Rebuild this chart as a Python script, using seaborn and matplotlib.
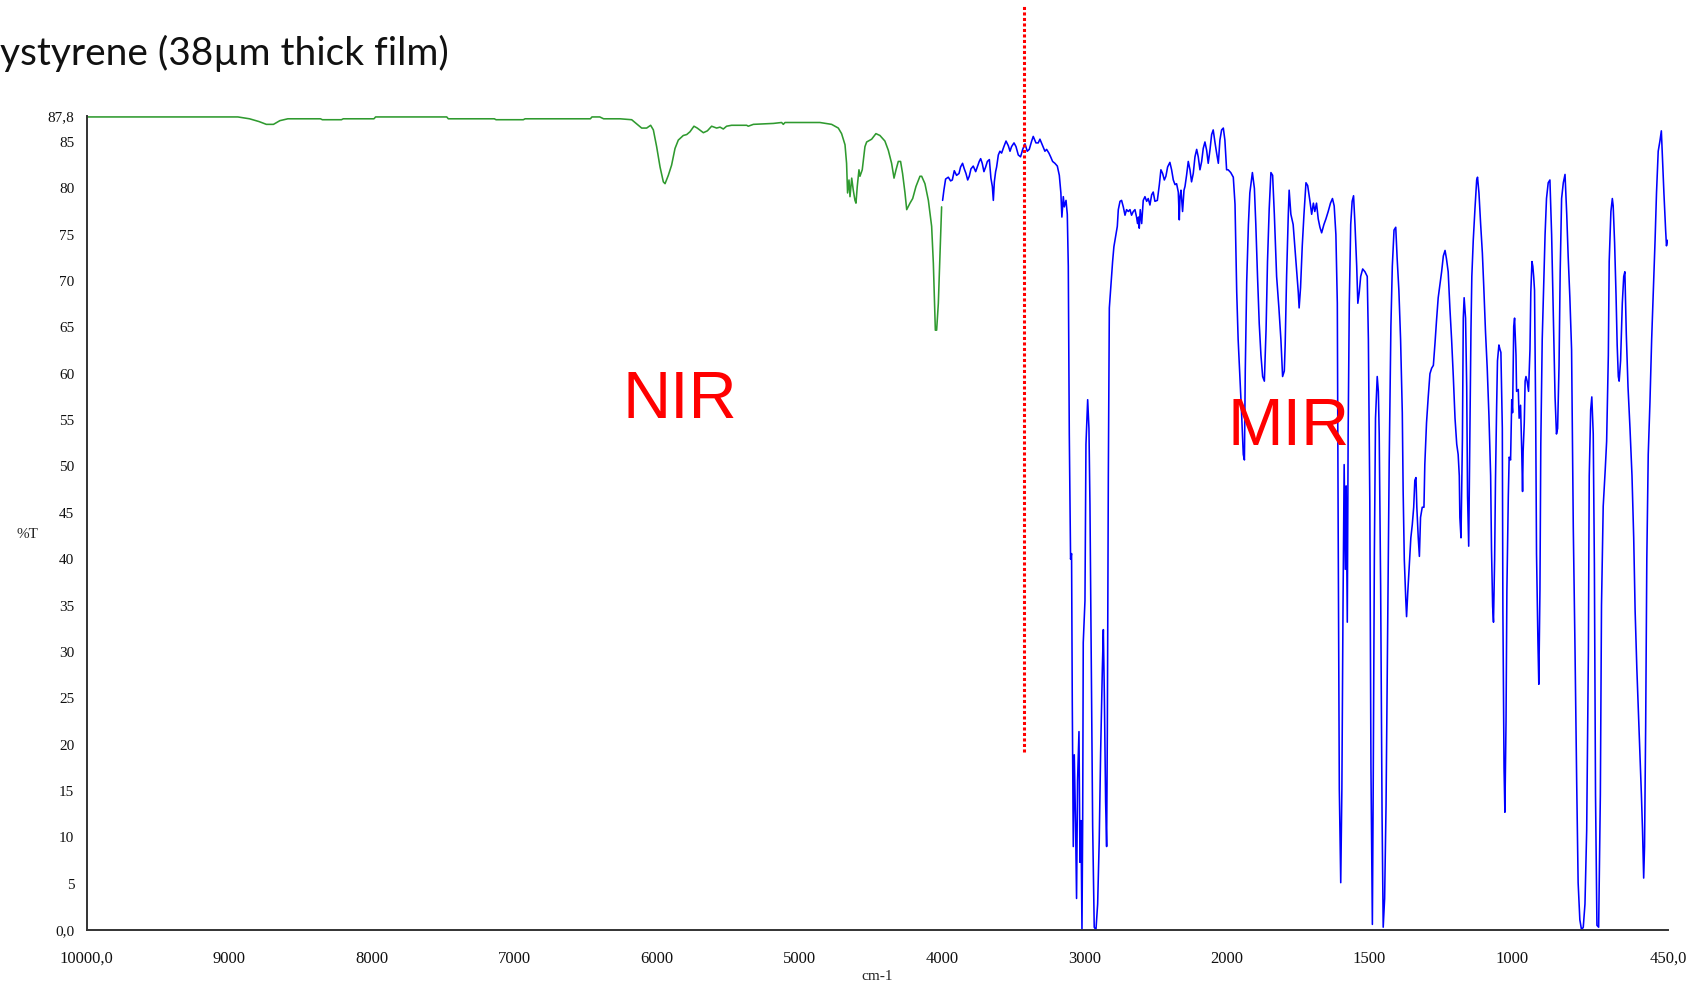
import numpy as np
import seaborn as sns
import matplotlib.pyplot as plt

# --- spectrum data (wavenumber in cm-1, %T) ---
# NIR part (green)
nir_w = [10000, 8940, 8858, 8791, 8740, 8690, 8645, 8589, 8360, 8347,
         8213, 8200, 7985, 7973, 7474, 7463, 7140, 7128, 6937, 6924,
         6466, 6455, 6400, 6373, 6258, 6176, 6106, 6071, 6043, 6024,
         6001, 5977, 5954, 5942, 5919, 5896, 5872, 5849, 5814, 5790,
         5767, 5739, 5716, 5673, 5645, 5615, 5580, 5556, 5533, 5510,
         5475, 5369, 5358, 5322, 5182, 5124, 5112, 5100, 4855, 4773,
         4726, 4703, 4679, 4668, 4661, 4651, 4644, 4632, 4621, 4609,
         4602, 4593, 4581, 4574, 4558, 4539, 4527, 4492, 4462, 4434,
         4399, 4375, 4352, 4335, 4321, 4305, 4289, 4275, 4258, 4246,
         4223, 4204, 4181, 4153, 4141, 4118, 4094, 4071, 4059, 4052,
         4045, 4036, 4024, 4013, 4001]
nir_t = [87.7, 87.7, 87.5, 87.2, 86.9, 86.9, 87.3, 87.5, 87.5, 87.4,
         87.4, 87.5, 87.5, 87.7, 87.7, 87.5, 87.5, 87.4, 87.4, 87.5,
         87.5, 87.7, 87.7, 87.5, 87.5, 87.4, 86.5, 86.5, 86.8, 86.3,
         84.5, 82.3, 80.7, 80.5, 81.4, 82.5, 84.3, 85.2, 85.7, 85.8,
         86.1, 86.7, 86.5, 86.0, 86.2, 86.7, 86.5, 86.6, 86.4, 86.7,
         86.8, 86.8, 86.7, 86.9, 87.0, 87.1, 86.9, 87.1, 87.1, 86.9,
         86.5, 85.9, 84.7, 82.7, 79.5, 80.9, 79.1, 81.1, 79.8, 78.7,
         78.4, 80.2, 82.0, 81.3, 82.0, 84.5, 85.0, 85.3, 85.9, 85.7,
         85.1, 84.1, 82.7, 81.1, 82.0, 82.9, 82.9, 81.6, 79.5, 77.7,
         78.4, 78.9, 80.2, 81.3, 81.3, 80.5, 78.7, 75.9, 71.9, 68.3,
         64.7, 64.7, 67.6, 72.6, 78.0]

# MIR part (blue), split by region
mir_w_oh = [3994, 3985, 3973, 3954, 3938, 3926, 3912, 3896, 3879, 3868,
            3854, 3842, 3830, 3818, 3807, 3795, 3779, 3762, 3751, 3737,
            3727, 3716, 3704, 3692, 3680, 3666, 3655, 3645, 3638, 3631,
            3622, 3615, 3603, 3592, 3580, 3564, 3549, 3533, 3521, 3510,
            3493, 3479, 3463, 3447, 3432, 3416, 3400, 3386, 3369, 3358,
            3339, 3323, 3311, 3292, 3276, 3264, 3248, 3236, 3222, 3206,
            3189, 3175, 3164, 3157, 3147, 3140, 3128]
mir_t_oh = [78.7, 79.8, 81.0, 81.2, 80.8, 80.9, 81.9, 81.4, 81.6, 82.3,
            82.7, 82.1, 81.6, 80.9, 81.3, 82.1, 82.4, 81.8, 82.3, 82.9,
            83.2, 82.7, 81.8, 82.3, 82.9, 83.1, 81.1, 80.2, 78.7, 80.7,
            81.8, 82.3, 83.6, 84.0, 83.8, 84.5, 85.1, 84.6, 84.0, 84.5,
            84.9, 84.5, 83.6, 83.4, 84.2, 84.8, 84.0, 84.2, 85.1, 85.6,
            84.9, 84.9, 85.3, 84.6, 84.0, 84.2, 83.8, 83.4, 82.9, 82.7,
            82.4, 81.4, 79.5, 76.9, 79.1, 78.0, 78.7]

mir_w_ch = [3119, 3112, 3105, 3096, 3089, 3084, 3077, 3070, 3061, 3054,
            3047, 3037, 3030, 3023, 3016, 3011, 3007, 2995, 2988, 2976,
            2967, 2960, 2951, 2941, 2930, 2918, 2906, 2895, 2885, 2873,
            2866, 2859, 2850, 2843, 2838, 2831, 2824]
mir_t_ch = [77.2, 71.6, 53.5, 40.0, 40.6, 24.5, 9.0, 18.9, 11.5, 3.4,
            16.1, 21.4, 7.3, 11.8, 0.0, 11.8, 31.0, 35.5, 52.4, 57.2,
            54.1, 45.9, 29.3, 11.2, 0.3, 0.0, 2.8, 9.6, 19.2, 28.2,
            32.4, 25.4, 13.8, 9.0, 21.4, 49.0, 67.1]

mir_w_mid = [2801, 2792, 2780, 2768, 2761, 2749, 2738, 2726, 2714, 2703,
             2691, 2679, 2668, 2656, 2644, 2633, 2626, 2619, 2614, 2607,
             2597, 2586, 2574, 2562, 2551, 2539, 2527, 2516, 2504, 2487,
             2473, 2462, 2450, 2438, 2427, 2415, 2399, 2387, 2375, 2363,
             2352, 2340, 2333, 2328, 2321, 2310, 2300, 2293, 2282, 2270,
             2258, 2247, 2235, 2223, 2211, 2200, 2188, 2176, 2165, 2153,
             2141, 2130, 2118, 2106, 2095, 2083, 2071, 2059, 2048, 2036,
             2024, 2013, 2001]
mir_t_mid = [72.1, 73.7, 74.8, 75.9, 77.7, 78.6, 78.7, 78.0, 77.1, 77.7,
             77.5, 77.7, 77.1, 77.5, 77.7, 76.9, 76.2, 76.9, 75.7, 77.7,
             76.2, 78.7, 79.1, 78.6, 78.9, 78.2, 79.3, 79.6, 78.6, 78.7,
             80.4, 82.0, 81.6, 80.9, 81.3, 82.3, 82.8, 82.0, 80.9, 80.4,
             80.5, 79.6, 76.6, 79.1, 79.8, 77.5, 79.8, 80.2, 81.4, 82.9,
             82.0, 80.7, 81.6, 83.4, 84.2, 83.4, 82.0, 82.9, 84.3, 85.0,
             84.1, 82.7, 84.1, 85.8, 86.3, 85.0, 83.8, 82.7, 85.2, 86.3,
             86.5, 85.2, 82.0]

mir_w_arom = [1995, 1986, 1977, 1971, 1965, 1960, 1954, 1948, 1942, 1938,
              1935, 1930, 1924, 1919, 1910, 1903, 1898, 1892, 1886, 1880,
              1874, 1868, 1862, 1857, 1851, 1845, 1839, 1833, 1825, 1817,
              1810, 1804, 1798, 1795, 1790, 1784, 1781, 1775, 1767, 1757,
              1749, 1746, 1741, 1735, 1729, 1722, 1716, 1708, 1702, 1696,
              1691, 1685, 1679, 1673, 1667, 1659, 1652, 1644, 1636, 1629,
              1623, 1617, 1612, 1609, 1605, 1600, 1596, 1592, 1588, 1584,
              1581, 1577, 1574, 1570, 1565, 1560, 1555, 1550, 1544, 1540,
              1535, 1530, 1523, 1515]
mir_t_arom = [82.0, 81.7, 81.2, 78.3, 68.8, 63.7, 59.7, 55.8, 51.3, 50.7,
              60.3, 69.9, 76.1, 79.5, 81.7, 80.0, 76.1, 70.5, 65.4, 62.0,
              59.7, 59.2, 64.8, 72.1, 77.8, 81.7, 81.4, 77.2, 70.5, 67.1,
              63.7, 59.7, 60.3, 63.1, 70.5, 77.2, 79.8, 77.2, 76.1, 72.1,
              68.8, 67.1, 69.3, 73.8, 77.2, 80.6, 80.3, 78.6, 77.2, 78.4,
              77.5, 78.4, 76.7, 75.8, 75.2, 76.1, 76.7, 77.5, 78.4, 78.9,
              78.1, 75.0, 67.6, 43.4, 15.2, 5.1, 15.2, 35.0, 50.2, 38.9,
              47.9, 33.2, 53.5, 67.6, 76.1, 78.6, 79.2, 76.1, 71.6, 67.6,
              68.8, 70.5, 71.3, 71.0]

mir_w_fp1 = [1507, 1503, 1498, 1494, 1489, 1486, 1482, 1478, 1472, 1468,
             1465, 1460, 1455, 1451, 1446, 1441, 1436, 1430, 1424, 1419,
             1413, 1407, 1402, 1396, 1390, 1384, 1381, 1377, 1372, 1369,
             1365, 1359, 1354, 1349, 1344, 1340, 1336, 1333, 1328, 1324,
             1320, 1314, 1308, 1305, 1299, 1293, 1287, 1281, 1275, 1269,
             1264, 1258, 1252, 1246, 1240, 1234, 1229, 1223, 1217, 1211,
             1205, 1199, 1193, 1188, 1184, 1182, 1178, 1173, 1170, 1167,
             1162, 1158, 1155, 1151, 1147, 1143, 1140, 1135, 1129, 1123,
             1120, 1115, 1109, 1103, 1098, 1092, 1086, 1080, 1074, 1071,
             1067, 1064, 1060, 1057, 1053, 1050, 1045, 1041]
mir_t_fp1 = [70.5, 63.7, 46.2, 17.5, 0.6, 15.8, 40.6, 55.2, 59.7, 58.1,
             53.5, 37.2, 12.4, 0.3, 3.4, 13.5, 30.4, 50.4, 65.1, 71.6,
             75.5, 75.8, 72.4, 69.0, 63.7, 55.8, 47.3, 40.0, 35.8, 33.8,
             36.3, 39.5, 42.3, 43.7, 45.6, 48.5, 48.8, 45.6, 42.3, 40.3,
             44.5, 45.6, 45.6, 50.2, 54.7, 57.5, 60.0, 60.6, 60.9, 63.4,
             65.7, 68.2, 69.6, 71.0, 72.7, 73.3, 72.4, 71.0, 67.1, 63.7,
             59.7, 55.2, 52.4, 51.3, 49.0, 44.5, 42.3, 53.0, 66.0, 68.2,
             66.0, 58.6, 46.8, 41.4, 53.0, 64.8, 70.5, 74.4, 77.8, 80.9,
             81.2, 79.5, 76.1, 73.0, 69.3, 64.5, 60.6, 55.5, 49.0, 41.1,
             34.9, 33.2, 40.0, 48.5, 56.4, 61.4, 63.1, 62.6]

mir_w_fp2 = [1038, 1033, 1031, 1027, 1024, 1020, 1017, 1012, 1009, 1004,
             1000, 997, 993, 990, 985, 983, 977, 974, 969, 965,
             962, 960, 956, 953, 950, 946, 941, 936, 933, 929,
             926, 923, 920, 916, 913, 908, 905, 901, 898, 893,
             888, 883, 878, 872, 866, 860, 854, 848, 843, 839,
             834, 830, 825, 819, 813, 807, 802, 796, 790, 784,
             778, 772, 767, 761, 755, 749, 743, 737, 731, 728,
             723, 719, 714, 710, 706, 701, 695, 689, 685, 679,
             672, 667, 661, 658, 652, 647, 644, 639, 634, 630,
             626, 623, 618, 612, 607, 603, 598, 592, 585, 578,
             572, 567, 561, 555, 550, 545, 541, 537, 534, 530,
             526, 521, 515, 509, 503, 497, 492, 486, 480, 475,
             472, 466, 460, 457, 453]
mir_t_fp2 = [62.3, 54.1, 34.4, 17.5, 12.7, 22.5, 36.6, 46.8, 51.0, 50.7,
             57.2, 55.8, 65.1, 66.0, 62.0, 58.1, 58.3, 55.2, 56.6, 51.8,
             47.3, 51.6, 54.7, 59.2, 59.7, 59.2, 58.1, 62.6, 68.8, 72.1,
             71.6, 70.5, 69.0, 55.8, 40.6, 31.0, 26.5, 36.6, 52.4, 63.7,
             69.3, 75.0, 78.9, 80.6, 80.9, 75.0, 66.5, 57.5, 53.5, 54.1,
             60.9, 71.0, 78.9, 80.6, 81.5, 77.2, 72.7, 68.2, 62.6, 43.4,
             30.4, 15.8, 5.1, 1.1, 0.0, 0.3, 2.8, 10.7, 29.9, 49.0,
             56.1, 57.5, 53.5, 39.5, 14.6, 0.5, 0.3, 14.6, 35.0, 45.7,
             49.6, 52.7, 62.0, 72.1, 77.5, 78.9, 78.1, 74.1, 68.5, 63.1,
             59.7, 59.2, 61.4, 67.6, 70.5, 71.0, 64.3, 58.6, 54.1, 49.0,
             42.3, 34.4, 28.2, 23.1, 18.6, 14.6, 10.7, 5.6, 9.0, 22.0,
             40.0, 51.3, 56.9, 63.7, 69.0, 74.4, 79.5, 84.0, 85.1, 86.2,
             84.0, 79.5, 75.5, 73.8, 74.4]

x_ticks = [10000, 9000, 8000, 7000, 6000, 5000, 4000, 3000, 2000, 1500, 1000, 450]
x_tick_labels = ['10000,0', '9000', '8000', '7000', '6000', '5000', '4000',
                 '3000', '2000', '1500', '1000', '450,0']
y_ticks = [0, 5, 10, 15, 20, 25, 30, 35, 40, 45, 50, 55, 60, 65, 70, 75, 80, 85, 87.8]
y_tick_labels = ['0,0', '5', '10', '15', '20', '25', '30', '35', '40', '45',
                 '50', '55', '60', '65', '70', '75', '80', '85', '87,8']

divider_w = 3420  # NIR / MIR boundary line


def forward(w):
    # spectrometer axis: scale doubles below 2000 cm-1
    w = np.asarray(w, dtype=float)
    return np.where(w >= 2000, w, 2 * w - 2000)


def inverse(v):
    v = np.asarray(v, dtype=float)
    return np.where(v >= 2000, v, (v + 2000) / 2)


def main():
    sns.set_style('white')
    plt.rcParams['font.family'] = ['Liberation Serif', 'DejaVu Serif']

    mir_w = mir_w_oh + mir_w_ch + mir_w_mid + mir_w_arom + mir_w_fp1 + mir_w_fp2
    mir_t = mir_t_oh + mir_t_ch + mir_t_mid + mir_t_arom + mir_t_fp1 + mir_t_fp2

    fig = plt.figure(figsize=(17.02, 9.84), dpi=100)
    ax = fig.add_axes([0.0510, 0.0549, 0.9293, 0.8272])

    sns.lineplot(x=nir_w, y=nir_t, ax=ax, color='#2f9a2f', lw=1.15,
                 sort=False, estimator=None)
    sns.lineplot(x=mir_w, y=mir_t, ax=ax, color='#0000ff', lw=1.15,
                 sort=False, estimator=None)

    ax.set_xscale('function', functions=(forward, inverse))
    ax.set_xlim(10000, 450)
    ax.set_ylim(0, 87.8)

    ax.set_xticks(x_ticks)
    ax.set_xticklabels(x_tick_labels, fontsize=12)
    ax.set_yticks(y_ticks)
    ax.set_yticklabels(y_tick_labels, fontsize=11)
    ax.minorticks_off()
    ax.set_xlabel('')
    ax.set_ylabel('')

    for side in ['top', 'right']:
        ax.spines[side].set_visible(False)
    for side in ['left', 'bottom']:
        ax.spines[side].set_color('#333333')
        ax.spines[side].set_linewidth(1.4)
    ax.tick_params(direction='out', length=5, width=1.2, color='#333333',
                   labelcolor='#111111')
    ax.tick_params(axis='x', pad=10)
    ax.tick_params(axis='y', pad=4)

    # NIR / MIR divider
    ax.plot([divider_w, divider_w], [19.2, 99.7], color='red', lw=2.2,
            ls=(0, (1, 0.8)), clip_on=False)

    ax.text(6244, 55.2, 'NIR', color='red', fontsize=48,
            family='Liberation Sans', ha='left', va='baseline')
    ax.text(1997, 52.3, 'MIR', color='red', fontsize=48,
            family='Liberation Sans', ha='left', va='baseline')

    fig.text(0.0, 0.946, 'ystyrene (38\u00b5m thick film)', fontsize=28,
             family='Lato', ha='left', va='center', color='#111111')
    fig.text(27 / 1702, 1 - 535 / 984, '%T', fontsize=11, ha='center', va='center')
    fig.text(877 / 1702, 1 - 977 / 984, 'cm-1', fontsize=11, ha='center', va='center')

    fig.savefig('out.png', dpi=100)
    plt.close(fig)


if __name__ == '__main__':
    main()
